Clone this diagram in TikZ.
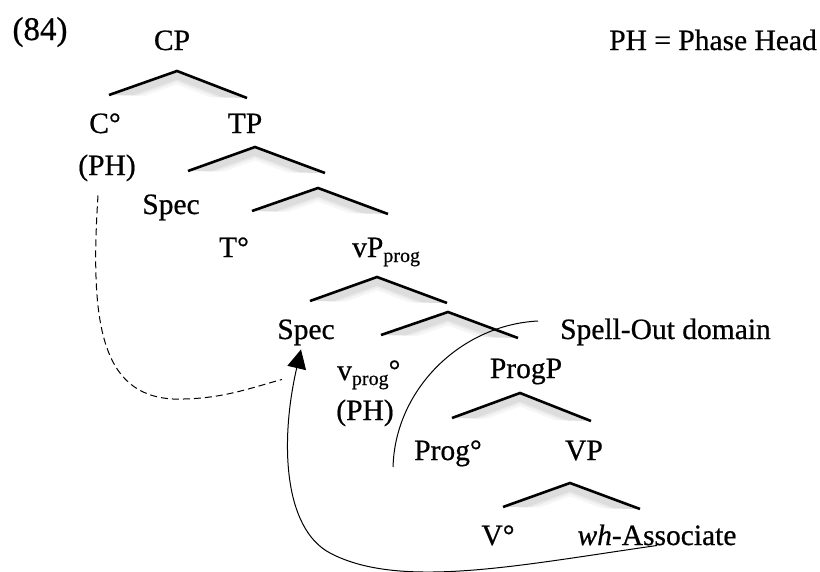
\documentclass[tikz,border=0pt]{standalone}
\usepackage{fontspec}
\setmainfont{Liberation Serif}[FakeBold=0.6]
\usetikzlibrary{arrows.meta}
\newcommand\subtxt[1]{\raisebox{-5pt}{\fontsize{20}{20}\selectfont #1}}
\newcommand\mytent[3]{%
  \begin{scope}
    \clip (#1) -- (#2) -- (#3) -- cycle;
    \foreach \w/\o in {16/0.035,11/0.045,7/0.06}{%
      \draw[line width=\w pt, black, opacity=\o]
        ([yshift=-5pt]#1) -- ([yshift=-5pt]#2) -- ([yshift=-5pt]#3);}
  \end{scope}
  \draw[tentline] (#1) -- (#2) -- (#3);}
\begin{document}
\begin{tikzpicture}[x=1pt,y=-1pt,
  every node/.style={font=\fontsize{29.5}{34}\selectfont, inner sep=0pt, anchor=base},
  tentline/.style={line width=2.6pt, line join=miter},
  link/.style={line width=1pt},
  dashlink/.style={line width=1pt, dash pattern=on 7pt off 4pt}]
\useasboundingbox (0,0) rectangle (820,571);
\clip (0,0) rectangle (820,571);

% labels
\node[font=\fontsize{33}{36}\selectfont] (ex) at (40,40) {(84)};
\node[anchor=base east] (legend) at (817,50) {PH = Phase Head};
\node (cp) at (172,50) {CP};
\node (c) at (105,133) {C°};
\node (tp) at (245,133) {TP};
\node (ph1) at (107,175) {(PH)};
\node (spec1) at (171,214) {Spec};
\node (t) at (234,257) {T°};
\node[anchor=base west] (vp) at (352,257) {vP\subtxt{prog}};
\node (spec2) at (306,339) {Spec};
\node[anchor=base west] (v) at (337,380) {v\subtxt{prog}°};
\node (ph2) at (365,420) {(PH)};
\node[anchor=base west] (so) at (560,339) {Spell-Out domain};
\node (progp) at (526,378) {ProgP};
\node (prog) at (448,460) {Prog°};
\node (vpn) at (584,460) {VP};
\node (vv) at (498,545) {V°};
\node (wh) at (657,545) {\textit{wh}-Associate};

% tents
\coordinate (cpL) at (109,95);  \coordinate (cpA) at (177,71);  \coordinate (cpR) at (247,98);
\coordinate (tpL) at (188,171); \coordinate (tpA) at (255,147); \coordinate (tpR) at (325,173);
\coordinate (tbL) at (252,211); \coordinate (tbA) at (318,188); \coordinate (tbR) at (388,214);
\coordinate (vpL) at (310,301); \coordinate (vpA) at (377,277); \coordinate (vpR) at (447,303);
\coordinate (vbL) at (381,335); \coordinate (vbA) at (448,312); \coordinate (vbR) at (518,338);
\coordinate (ppL) at (452,418); \coordinate (ppA) at (520,393); \coordinate (ppR) at (591,421);
\coordinate (VL) at (503,507);  \coordinate (VA) at (570,483);  \coordinate (VR) at (640,509);
\mytent{cpL}{cpA}{cpR}
\mytent{tpL}{tpA}{tpR}
\mytent{tbL}{tbA}{tbR}
\mytent{vpL}{vpA}{vpR}
\mytent{vbL}{vbA}{vbR}
\mytent{ppL}{ppA}{ppR}
\mytent{VL}{VA}{VR}

% spell-out domain boundary
\draw[link] ([xshift=-22pt,yshift=18pt]so.base west)
  .. controls (460,325) and (395,390) .. ([xshift=-21pt,yshift=-7pt]prog.base west);

% dashed link from C (PH) to Spec
\draw[dashlink] ([xshift=-9pt,yshift=-14pt]ph1.south)
  .. controls (90,320) and (100,395) .. (173,399)
  .. controls (220,400) and (250,388) .. ([xshift=-24pt,yshift=-34pt]spec2.south);

% movement arrow from wh-Associate to Spec
\draw[link, -{Triangle[length=19pt,width=19pt]}] (wh.south)
  .. controls (520,565) and (400,590) .. (330,553)
  .. controls (283,528) and (280,440) .. ([xshift=-5pt,yshift=-4pt]spec2.south);
\end{tikzpicture}
\end{document}
